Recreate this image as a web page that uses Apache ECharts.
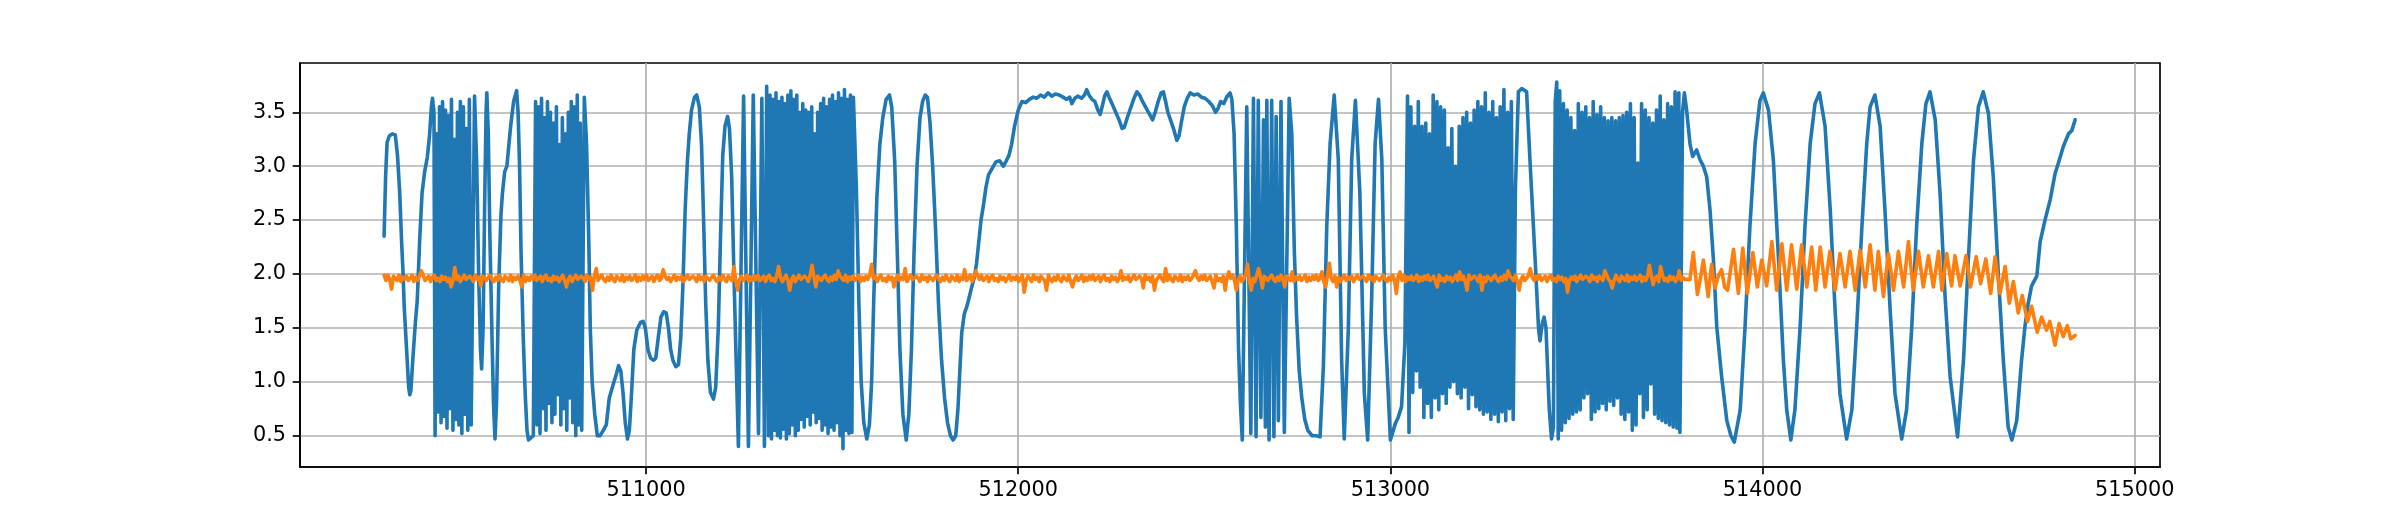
<!DOCTYPE html>
<html>
<head>
<meta charset="utf-8">
<script src="https://cdn.jsdelivr.net/npm/echarts@6/dist/echarts.min.js"></script>
<style>
html, body { margin: 0; padding: 0; background: #fff; }
#chart { width: 2400px; height: 525px; }
</style>
</head>
<body>
<div id="chart"></div>
<script>
// tick positions
var xTicks = [511000, 512000, 513000, 514000, 515000];
var yTicks = [0.5, 1.0, 1.5, 2.0, 2.5, 3.0, 3.5];

// blue signal, [x, y]
var signalA = [
	[510296, 2.35], [510300, 2.9], [510304, 3.22], [510310, 3.28], [510318, 3.30], [510326, 3.29], [510332, 3.1], [510338, 2.75],
	[510343, 2.3], [510347, 2.0], [510350, 1.7], [510354, 1.45], [510358, 1.2], [510362, 0.95], [510365, 0.88], [510368, 0.92],
	[510373, 1.2], [510380, 1.55], [510385, 1.75], [510392, 2.35], [510398, 2.75], [510405, 2.95], [510412, 3.08], [510418, 3.28],
	[510423, 3.55], [510426, 3.63], [510430, 3.5],
	// burst 1
	[510433, 0.5], [510437, 3.3], [510441, 0.72], [510445, 3.55], [510449, 0.62], [510453, 3.6], [510457, 0.68], [510461, 3.52],
	[510465, 0.57], [510469, 3.47], [510473, 0.75], [510477, 3.62], [510481, 0.55], [510485, 3.25], [510489, 0.65], [510493, 3.5],
	[510497, 0.6], [510501, 3.6], [510505, 0.52], [510509, 3.55], [510513, 0.7], [510517, 3.35], [510521, 0.55], [510525, 3.62],
	[510530, 0.6],
	[510539, 3.65], [510545, 3.0], [510550, 2.0], [510555, 1.3], [510558, 1.12], [510562, 1.5], [510566, 2.6], [510570, 3.5],
	[510572, 3.68], [510576, 3.3], [510580, 2.4], [510586, 1.4], [510590, 0.8], [510594, 0.47], [510598, 0.8], [510604, 1.9],
	[510610, 2.55], [510614, 2.75], [510620, 2.95], [510626, 3.0], [510630, 3.15], [510636, 3.37], [510644, 3.6], [510652, 3.7],
	[510656, 3.5], [510660, 3.0], [510664, 2.2], [510670, 1.4], [510675, 0.9], [510680, 0.55], [510684, 0.46], [510690, 0.48],
	[510697, 0.5],
	// burst 2
	[510703, 3.6], [510707, 0.6], [510711, 3.55], [510715, 0.52], [510719, 3.63], [510723, 0.75], [510727, 3.45], [510731, 0.55],
	[510735, 3.6], [510739, 0.8], [510743, 3.5], [510747, 0.62], [510751, 3.4], [510755, 0.7], [510759, 3.55], [510763, 0.88],
	[510767, 3.2], [510771, 0.6], [510775, 3.45], [510779, 0.75], [510783, 3.3], [510787, 0.55], [510791, 3.5], [510795, 0.85],
	[510799, 3.6], [510803, 0.62], [510807, 3.55], [510811, 0.5], [510815, 3.66], [510819, 0.6], [510823, 3.4], [510827, 0.55],
	[510834, 3.64], [510840, 3.2], [510846, 2.3], [510850, 1.5], [510855, 1.0], [510862, 0.7], [510869, 0.5], [510876, 0.5],
	[510885, 0.55], [510893, 0.6], [510901, 0.85], [510912, 0.98], [510920, 1.07], [510926, 1.15], [510932, 1.1], [510938, 0.9],
	[510944, 0.62], [510950, 0.47], [510955, 0.55], [510961, 0.9], [510967, 1.3], [510975, 1.48], [510985, 1.55], [510992, 1.56],
	[510998, 1.5], [511005, 1.3], [511012, 1.22], [511020, 1.2], [511026, 1.22], [511033, 1.42], [511040, 1.6], [511047, 1.65],
	[511054, 1.64], [511060, 1.5], [511066, 1.3], [511072, 1.2], [511080, 1.14], [511087, 1.16], [511093, 1.4], [511099, 1.9],
	[511105, 2.6], [511111, 3.05], [511116, 3.3], [511122, 3.52], [511130, 3.64], [511136, 3.66], [511143, 3.55], [511149, 3.2],
	[511155, 2.44], [511160, 1.75], [511166, 1.2], [511173, 0.9], [511181, 0.84], [511187, 0.95], [511194, 1.5], [511200, 2.35],
	[511206, 3.1], [511212, 3.37], [511219, 3.46], [511224, 3.35], [511230, 2.9], [511236, 2.0], [511242, 1.2], [511248, 0.4],
	[511262, 3.65], [511275, 0.4], [511288, 3.66], [511302, 0.52], [511311, 3.63], [511318, 0.4], [511324, 3.74],
	// burst 3
	[511329, 0.5], [511333, 3.66], [511337, 0.47], [511341, 3.62], [511345, 0.55], [511349, 3.68], [511353, 0.5], [511357, 3.6],
	[511361, 0.48], [511365, 3.64], [511369, 0.56], [511373, 3.58], [511377, 0.47], [511381, 3.66], [511385, 0.52], [511389, 3.7],
	[511393, 0.6], [511397, 3.62], [511401, 0.5], [511405, 3.66], [511409, 0.55], [511413, 3.5], [511417, 0.65], [511421, 3.58],
	[511425, 0.58], [511429, 3.52], [511433, 0.68], [511437, 3.5], [511441, 0.6], [511445, 3.55], [511449, 0.72], [511453, 3.3],
	[511457, 0.62], [511461, 3.5], [511465, 0.66], [511469, 3.58], [511473, 0.55], [511477, 3.63], [511481, 0.6], [511485, 3.55],
	[511489, 0.52], [511493, 3.62], [511497, 0.58], [511501, 3.66], [511505, 0.55], [511509, 3.6], [511513, 0.62], [511517, 3.68],
	[511521, 0.5], [511525, 3.63], [511529, 0.38], [511533, 3.71], [511537, 0.55], [511541, 3.62], [511545, 0.52], [511549, 3.66],
	[511553, 0.53], [511557, 3.64],
	[511565, 2.8], [511572, 1.7], [511578, 1.0], [511585, 0.62], [511593, 0.47], [511600, 0.6], [511606, 1.0], [511612, 1.8],
	[511620, 2.7], [511628, 3.2], [511636, 3.45], [511645, 3.62], [511654, 3.66], [511660, 3.55], [511668, 3.05], [511675, 2.2],
	[511682, 1.3], [511690, 0.7], [511699, 0.46], [511706, 0.7], [511713, 1.3], [511720, 2.2], [511728, 3.0], [511736, 3.45],
	[511743, 3.6], [511750, 3.66], [511756, 3.64], [511763, 3.4], [511770, 3.0], [511778, 2.4], [511786, 1.7], [511794, 1.2],
	[511802, 0.85], [511810, 0.62], [511818, 0.5], [511825, 0.46], [511832, 0.5], [511838, 0.75], [511843, 1.1], [511848, 1.45],
	[511855, 1.63], [511862, 1.7], [511868, 1.78], [511875, 1.88], [511882, 1.97], [511888, 2.1], [511894, 2.3], [511900, 2.5],
	[511907, 2.65], [511913, 2.8], [511920, 2.92], [511930, 2.98], [511940, 3.04], [511950, 3.05], [511960, 3.0], [511968, 3.05],
	[511975, 3.1], [511982, 3.2], [511990, 3.37], [512000, 3.52], [512010, 3.6], [512020, 3.59], [512030, 3.62], [512040, 3.64],
	[512050, 3.63], [512060, 3.66], [512070, 3.64], [512080, 3.68], [512090, 3.65], [512100, 3.67], [512110, 3.66], [512120, 3.64],
	[512130, 3.62], [512138, 3.64], [512144, 3.58], [512152, 3.63], [512160, 3.65], [512170, 3.63], [512178, 3.66], [512184, 3.71],
	[512190, 3.66], [512198, 3.62], [512206, 3.6], [512214, 3.52], [512220, 3.48], [512226, 3.56], [512232, 3.65], [512238, 3.69],
	[512244, 3.64], [512252, 3.58], [512262, 3.5], [512272, 3.42], [512279, 3.35], [512285, 3.36], [512292, 3.44], [512300, 3.52],
	[512310, 3.62], [512319, 3.69], [512326, 3.66], [512334, 3.6], [512342, 3.55], [512350, 3.5], [512361, 3.43], [512368, 3.5],
	[512376, 3.6], [512384, 3.68], [512390, 3.69], [512396, 3.6], [512402, 3.5], [512410, 3.42], [512418, 3.34], [512426, 3.24],
	[512432, 3.28], [512438, 3.4], [512446, 3.55], [512454, 3.63], [512462, 3.68], [512472, 3.66], [512482, 3.67], [512492, 3.64],
	[512502, 3.63], [512512, 3.6], [512522, 3.56], [512530, 3.5], [512536, 3.53], [512544, 3.6], [512552, 3.58], [512560, 3.64],
	[512569, 3.68], [512574, 3.62], [512580, 3.3], [512586, 2.44], [512592, 1.3], [512597, 0.8], [512602, 0.46],
	// burst 4
	[512614, 3.55], [512625, 0.52], [512632, 3.63], [512639, 0.49], [512645, 3.61], [512652, 0.67], [512659, 3.43], [512664, 0.58],
	[512668, 3.61], [512674, 0.46], [512681, 3.61], [512687, 0.49], [512693, 3.46], [512699, 0.64], [512706, 3.6], [512715, 0.53],
	[512728, 3.63], [512735, 3.3], [512742, 2.2], [512748, 1.6], [512755, 1.1], [512762, 0.85], [512770, 0.65], [512778, 0.55],
	[512790, 0.5], [512800, 0.5], [512811, 0.49], [512820, 1.15], [512829, 2.44], [512838, 3.21], [512849, 3.66], [512860, 3.06],
	[512869, 1.2], [512876, 0.47], [512887, 1.5], [512896, 3.06], [512906, 3.61], [512918, 2.75], [512930, 0.89], [512939, 0.46],
	[512950, 1.82], [512959, 3.21], [512968, 3.62], [512977, 3.06], [512986, 1.5], [513000, 0.46], [513013, 0.61], [513021, 0.67],
	[513030, 0.77], [513039, 1.36],
	// burst 5
	[513046, 3.65], [513050, 0.53], [513055, 3.55], [513060, 0.9], [513065, 3.37], [513070, 1.1], [513075, 3.6], [513080, 0.95],
	[513085, 3.37], [513090, 0.67], [513095, 3.4], [513100, 0.8], [513105, 3.3], [513110, 0.67], [513115, 3.66], [513120, 0.85],
	[513125, 3.6], [513130, 0.74], [513135, 3.55], [513140, 0.89], [513145, 3.52], [513150, 0.8], [513155, 3.17], [513160, 0.95],
	[513165, 3.35], [513170, 1.0], [513175, 3.0], [513180, 0.89], [513185, 3.37], [513190, 0.85], [513195, 3.45], [513200, 0.95],
	[513205, 3.5], [513210, 0.75], [513215, 3.4], [513220, 0.88], [513225, 3.52], [513230, 0.77], [513235, 3.6], [513240, 0.74],
	[513245, 3.55], [513250, 0.7], [513255, 3.68], [513260, 0.72], [513265, 3.5], [513270, 0.65], [513275, 3.6], [513280, 0.7],
	[513285, 3.45], [513290, 0.63], [513295, 3.55], [513300, 0.72], [513305, 3.71], [513310, 0.64], [513315, 3.5], [513320, 0.75],
	[513325, 3.6], [513330, 0.65], [513336, 2.8],
	[513344, 3.69], [513353, 3.72], [513366, 3.69], [513375, 3.06], [513389, 2.13], [513398, 1.5], [513402, 1.38], [513408, 1.54],
	[513413, 1.6], [513418, 1.5], [513427, 0.74], [513433, 0.47], [513438, 0.58],
	// burst 6
	[513443, 3.6], [513447, 3.78], [513451, 0.47], [513455, 3.7], [513460, 0.55], [513465, 3.58], [513470, 0.62], [513475, 3.52],
	[513480, 0.66], [513485, 3.45], [513490, 0.7], [513495, 3.33], [513500, 0.72], [513505, 3.58], [513510, 0.74], [513515, 3.5],
	[513520, 0.85], [513525, 3.55], [513530, 0.89], [513535, 3.45], [513540, 0.65], [513545, 3.6], [513550, 0.72], [513555, 3.48],
	[513560, 0.75], [513565, 3.55], [513570, 0.8], [513575, 3.45], [513580, 0.74], [513585, 3.42], [513590, 0.82], [513595, 3.45],
	[513600, 0.78], [513605, 3.42], [513610, 0.85], [513615, 3.45], [513620, 0.7], [513625, 3.47], [513630, 0.65], [513635, 3.5],
	[513640, 0.72], [513645, 3.58], [513650, 0.55], [513655, 3.45], [513660, 0.6], [513665, 3.03], [513670, 0.89], [513675, 3.58],
	[513680, 0.67], [513685, 3.52], [513690, 0.74], [513695, 3.45], [513700, 0.98], [513705, 3.4], [513710, 0.7], [513715, 3.52],
	[513720, 0.66], [513725, 3.65], [513730, 0.64], [513735, 3.43], [513740, 0.62], [513745, 3.58], [513750, 0.6], [513755, 3.55],
	[513760, 0.58], [513765, 3.69], [513770, 0.57], [513775, 3.68], [513778, 0.53], [513785, 3.5],
	// slow waves at the end
	[513790, 3.68], [513796, 3.52], [513805, 3.21], [513812, 3.09], [513823, 3.15], [513832, 3.06], [513841, 3.0], [513850, 2.9],
	[513859, 2.59], [513868, 2.13], [513877, 1.51], [513890, 1.05], [513904, 0.64], [513915, 0.5], [513924, 0.44], [513940, 0.74],
	[513953, 1.51], [513966, 2.44], [513980, 3.21], [513993, 3.61], [514002, 3.68], [514016, 3.52], [514029, 3.06], [514043, 2.13],
	[514056, 1.2], [514065, 0.74], [514076, 0.46], [514087, 0.74], [514101, 1.51], [514114, 2.44], [514128, 3.21], [514141, 3.58],
	[514153, 3.68], [514168, 3.37], [514182, 2.59], [514195, 1.66], [514208, 0.89], [514226, 0.47], [514240, 0.74], [514253, 1.51],
	[514267, 2.44], [514280, 3.21], [514289, 3.55], [514302, 3.66], [514316, 3.37], [514329, 2.59], [514343, 1.66], [514356, 0.89],
	[514374, 0.47], [514387, 0.74], [514401, 1.51], [514414, 2.44], [514428, 3.21], [514439, 3.58], [514450, 3.69], [514464, 3.43],
	[514477, 2.75], [514490, 1.82], [514504, 1.05], [514524, 0.49], [514540, 1.2], [514553, 2.13], [514567, 3.06], [514580, 3.55],
	[514593, 3.69], [514607, 3.49], [514620, 2.9], [514634, 1.97], [514647, 1.2], [514660, 0.58], [514670, 0.46], [514683, 0.64],
	[514696, 1.2], [514705, 1.51], [514714, 1.73], [514723, 1.89], [514737, 1.98], [514746, 2.3], [514759, 2.5], [514773, 2.69],
	[514786, 2.93], [514795, 3.03], [514808, 3.18], [514822, 3.3], [514831, 3.33], [514840, 3.43]
];

// orange signal: noisy flat part, one value every 5 units from 510296
var signalBStart = 510296;
var signalBStep = 5;
var signalBNoise = [
	1.99, 1.94, 1.99, 1.95, 1.86, 1.98, 1.96, 1.94, 1.99, 1.93, 1.97, 1.95, 1.98, 1.94, 1.96, 1.99, 1.93, 1.97, 1.94, 1.98,
	2.03, 1.99, 1.94, 1.96, 1.98, 1.93, 1.97, 1.99, 1.94, 1.96, 1.93, 1.98, 1.95, 1.97, 1.93, 1.96, 1.88, 1.94, 2.06, 1.95,
	1.98, 1.93, 1.96, 1.99, 1.95, 1.94, 1.98, 1.96, 1.93, 1.99, 1.95, 1.97, 1.89, 1.98, 1.96, 1.94, 1.97, 1.99, 1.95, 1.93,
	1.97, 1.94, 1.99, 1.95, 1.93, 1.98, 1.96, 1.94, 1.99, 1.93, 1.97, 1.95, 1.98, 1.94, 1.88, 1.99, 1.93, 1.97, 1.94, 1.98,
	1.95, 1.99, 1.94, 1.96, 1.98, 1.93, 1.97, 1.99, 1.94, 1.96, 1.93, 1.98, 1.95, 1.97, 1.93, 1.96, 1.99, 1.94, 1.88, 1.95,
	1.98, 1.93, 1.96, 1.99, 1.95, 1.94, 1.98, 1.96, 1.93, 1.99, 1.95, 1.97, 1.85, 1.98, 2.05, 1.94, 1.97, 1.99, 1.95, 1.93,
	1.97, 1.94, 1.99, 1.95, 1.93, 1.98, 1.96, 1.94, 1.99, 1.93, 1.97, 1.95, 1.98, 1.94, 1.96, 1.99, 1.93, 1.97, 1.94, 1.98,
	1.95, 1.99, 1.94, 1.96, 1.98, 1.93, 1.97, 1.99, 1.94, 1.96, 2.04, 1.98, 1.95, 1.97, 1.93, 1.96, 1.99, 1.94, 1.97, 1.95,
	1.98, 1.93, 1.96, 1.99, 1.95, 1.94, 1.98, 1.96, 1.93, 1.99, 1.95, 1.97, 1.93, 1.98, 1.96, 1.94, 1.97, 1.99, 1.95, 1.93,
	1.97, 1.94, 1.99, 1.95, 1.93, 1.98, 1.96, 1.94, 2.07, 1.93, 1.85, 1.95, 1.98, 1.94, 1.96, 1.99, 1.93, 1.97, 1.94, 1.98,
	1.95, 1.99, 1.94, 1.96, 1.98, 1.93, 1.97, 1.99, 1.94, 1.96, 1.93, 1.98, 2.07, 1.97, 1.93, 1.96, 1.99, 1.94, 1.85, 1.95,
	1.98, 1.93, 1.96, 1.99, 1.95, 1.94, 1.98, 1.96, 1.93, 1.99, 2.08, 1.97, 1.88, 1.98, 1.96, 1.94, 1.97, 1.99, 1.95, 1.93,
	1.97, 1.94, 1.99, 1.95, 2.03, 1.98, 1.96, 1.94, 1.99, 1.93, 1.97, 1.95, 1.98, 1.94, 1.96, 1.99, 1.93, 1.97, 1.94, 1.98,
	1.95, 1.99, 2.09, 1.96, 1.98, 1.93, 1.97, 1.99, 1.94, 1.96, 1.93, 1.98, 1.95, 1.97, 1.88, 1.96, 1.99, 1.94, 1.97, 1.95,
	2.05, 1.93, 1.96, 1.99, 1.95, 1.94, 1.98, 1.96, 1.93, 1.99, 1.95, 1.97, 1.93, 1.98, 1.96, 1.94, 1.97, 1.99, 1.95, 1.93,
	1.97, 1.94, 1.99, 1.95, 1.93, 1.98, 1.96, 1.94, 1.99, 1.93, 1.97, 1.95, 2.04, 1.94, 1.96, 1.99, 1.93, 1.97, 2.03, 1.98,
	1.95, 1.99, 1.94, 1.96, 1.98, 1.93, 1.97, 1.99, 1.94, 1.96, 1.93, 1.98, 1.95, 1.97, 1.93, 1.96, 1.99, 1.94, 1.97, 1.95,
	1.98, 1.93, 1.96, 1.99, 1.83, 1.94, 1.98, 1.96, 1.93, 1.99, 1.95, 1.97, 1.93, 1.98, 1.96, 1.94, 1.85, 1.99, 1.95, 1.93,
	1.97, 1.94, 1.99, 1.95, 1.93, 1.98, 1.96, 1.94, 1.99, 1.93, 1.88, 1.95, 1.98, 1.94, 1.96, 1.99, 1.93, 1.97, 1.94, 1.98,
	1.95, 1.99, 1.94, 1.96, 1.98, 1.93, 1.97, 1.99, 1.94, 1.96, 1.93, 1.98, 1.95, 1.97, 1.93, 1.96, 2.03, 1.94, 1.97, 1.95,
	1.98, 1.93, 1.96, 1.99, 1.95, 1.94, 1.98, 1.96, 1.87, 1.99, 1.95, 1.97, 1.93, 1.98, 1.85, 1.94, 1.97, 1.99, 1.95, 1.93,
	2.05, 1.94, 1.99, 1.95, 1.93, 1.98, 1.96, 1.94, 1.99, 1.93, 1.97, 1.95, 1.98, 1.94, 1.96, 1.99, 2.03, 1.97, 1.94, 1.98,
	1.95, 1.99, 1.94, 1.96, 1.98, 1.93, 1.87, 1.99, 1.94, 1.96, 1.93, 1.98, 1.85, 1.97, 2.02, 1.96, 1.99, 1.94, 1.85, 1.95,
	1.98, 1.93, 1.96, 1.99, 2.09, 1.94, 1.85, 1.96, 1.93, 1.99, 2.05, 1.97, 1.87, 1.98, 1.96, 1.94, 1.97, 1.99, 1.95, 1.93,
	1.97, 1.94, 1.99, 1.95, 1.88, 1.98, 1.96, 1.94, 2.02, 1.93, 1.97, 1.95, 1.98, 1.94, 1.96, 1.99, 1.93, 1.97, 1.94, 1.98,
	1.95, 1.99, 1.94, 1.96, 2.02, 1.93, 1.88, 1.99, 2.10, 1.96, 1.93, 1.98, 1.88, 1.97, 1.93, 1.96, 1.99, 1.94, 1.97, 1.95,
	1.98, 1.93, 1.96, 1.99, 1.95, 1.94, 1.98, 1.96, 1.93, 1.99, 1.95, 1.97, 1.93, 1.98, 1.96, 1.94, 1.97, 1.99, 1.95, 1.93,
	1.97, 1.94, 1.99, 1.95, 1.82, 1.98, 2.02, 1.94, 1.99, 1.93, 1.97, 1.95, 1.98, 1.94, 1.96, 1.99, 1.93, 1.97, 1.94, 1.98,
	1.95, 1.99, 1.94, 1.96, 1.98, 1.93, 1.88, 1.99, 1.94, 1.96, 1.93, 1.98, 1.95, 1.97, 1.93, 1.96, 1.99, 1.94, 2.02, 1.95,
	1.98, 1.93, 1.85, 1.99, 1.95, 1.94, 1.98, 1.96, 1.93, 1.99, 1.85, 1.97, 1.93, 1.98, 1.96, 1.94, 1.97, 1.99, 1.95, 1.93,
	1.97, 1.94, 1.99, 1.95, 2.03, 1.98, 1.96, 1.94, 1.99, 1.93, 1.85, 1.95, 1.98, 1.94, 1.96, 1.99, 2.05, 1.97, 1.94, 1.98,
	1.95, 1.99, 1.94, 1.96, 1.98, 1.93, 1.97, 1.99, 1.94, 1.96, 1.93, 1.98, 1.95, 1.97, 1.93, 1.96, 1.83, 1.94, 1.97, 1.95,
	1.98, 1.93, 1.96, 1.99, 1.95, 1.94, 1.98, 1.96, 1.93, 1.99, 1.95, 1.97, 1.93, 1.98, 1.96, 1.94, 2.03, 1.99, 1.95, 1.93,
	1.87, 1.94, 1.99, 1.95, 1.93, 1.98, 1.96, 1.94, 1.99, 1.93, 1.97, 1.95, 1.98, 1.94, 1.96, 1.99, 1.93, 1.97, 1.94, 1.98,
	2.08, 1.99, 1.90, 1.96, 1.98, 1.93, 2.07, 1.99, 1.94, 1.96, 1.93, 1.98, 1.95, 1.97, 1.93, 1.96, 2.03, 1.94, 1.97, 1.95,
	1.96
];
// orange signal: oscillating end part, [x, y]
var signalBTail = [
	[513805, 1.95], [513814, 2.2], [513825, 1.81], [513834, 1.98], [513841, 2.13], [513854, 1.79], [513863, 2.09], [513872, 1.87],
	[513881, 1.98], [513890, 2.04], [513898, 1.88], [513906, 1.85], [513922, 2.23], [513935, 1.82], [513947, 2.24], [513959, 1.82],
	[513974, 2.2], [513986, 1.88], [513998, 2.13], [514011, 1.89], [514025, 2.3], [514038, 1.85], [514052, 2.28], [514065, 1.85],
	[514078, 2.27], [514092, 1.86], [514105, 2.27], [514119, 1.88], [514132, 2.25], [514143, 1.85], [514155, 2.25], [514168, 1.88],
	[514181, 2.21], [514195, 1.85], [514208, 2.19], [514222, 1.88], [514235, 2.21], [514249, 1.85], [514262, 2.22], [514276, 1.88],
	[514289, 2.27], [514302, 1.85], [514311, 2.21], [514325, 1.79], [514338, 2.19], [514352, 1.85], [514365, 2.21], [514379, 1.88],
	[514392, 2.3], [514405, 1.85], [514419, 2.21], [514432, 1.88], [514446, 2.17], [514459, 1.88], [514473, 2.21], [514482, 1.85],
	[514495, 2.19], [514508, 1.89], [514517, 2.17], [514531, 1.89], [514547, 2.17], [514559, 1.88], [514574, 2.16], [514586, 1.91],
	[514600, 2.14], [514613, 1.82], [514625, 2.16], [514638, 1.82], [514652, 2.07], [514663, 1.73], [514674, 1.93], [514687, 1.64],
	[514698, 1.80], [514712, 1.56], [514723, 1.70], [514738, 1.46], [514750, 1.60], [514763, 1.48], [514772, 1.56], [514786, 1.34],
	[514797, 1.54], [514808, 1.42], [514819, 1.52], [514828, 1.40], [514840, 1.43]
];

var chart = echarts.init(document.getElementById('chart'), null, { renderer: 'canvas' });

var orangeData = [];
for (var i = 0; i < signalBNoise.length; i++) {
	orangeData.push([signalBStart + i * signalBStep, signalBNoise[i]]);
}
orangeData = orangeData.concat(signalBTail);

var tickFont = { fontFamily: 'DejaVu Sans', fontSize: 20.8, color: '#000' };

var option = {
	backgroundColor: '#fff',
	animation: false,
	grid: {
		left: 300, right: 240, top: 63, bottom: 58,
		containLabel: false,
		outerBoundsMode: 'none',
		show: true,
		borderColor: '#000',
		borderWidth: 1.7
	},
	xAxis: {
		type: 'value',
		min: 510070,
		max: 515068,
		axisLine: { show: true, lineStyle: { color: '#000', width: 1.7 } },
		axisTick: { show: true, length: 7.3, customValues: xTicks, lineStyle: { color: '#000', width: 1.7 } },
		axisLabel: Object.assign({ margin: 13, customValues: xTicks, formatter: function(v) { return String(v); } }, tickFont),
		splitLine: { show: true, lineStyle: { color: '#b0b0b0', width: 1.7 } }
	},
	yAxis: {
		type: 'value',
		min: 0.21,
		max: 3.957,
		axisLine: { show: true, lineStyle: { color: '#000', width: 1.7 } },
		axisTick: { show: true, length: 7.3, customValues: yTicks, lineStyle: { color: '#000', width: 1.7 } },
		axisLabel: Object.assign({ margin: 14, customValues: yTicks, formatter: function(v) { return v.toFixed(1); } }, tickFont),
		splitLine: { show: true, lineStyle: { color: '#b0b0b0', width: 1.7 } }
	},
	series: [{
		type: 'line',
		data: signalA,
		showSymbol: false,
		sampling: null,
		lineStyle: { color: '#1f77b4', width: 3.6, join: 'round', cap: 'round' },
		itemStyle: { color: '#1f77b4' }
	}, {
		type: 'line',
		data: orangeData,
		showSymbol: false,
		sampling: null,
		lineStyle: { color: '#ff7f0e', width: 3.6, join: 'round', cap: 'round' },
		itemStyle: { color: '#ff7f0e' }
	}]
};
chart.setOption(option);
</script>
</body>
</html>
